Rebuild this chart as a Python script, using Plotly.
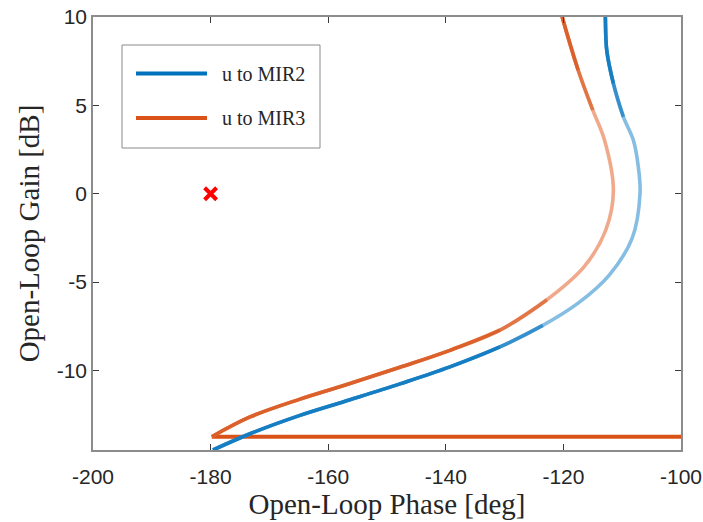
import plotly.graph_objects as go

# ---- data (phase [deg], gain [dB]) ----
mir2_phase = [-179.6, -173.3, -164.8, -156.3, -147.8, -139.3, -130.8, -123.5, -117.5, -112.2,
              -108.3, -106.97, -107.26, -108.1, -109.8, -111.5, -112.63, -112.87, -112.95]
mir2_gain = [-14.5, -13.58, -12.54, -11.66, -10.76, -9.80, -8.67, -7.45, -6.19, -4.6,
             -2.51, 0.0, 1.52, 3.03, 4.35, 6.24, 8.12, 10.0, 10.6]

mir3_phase = [-179.8, -173.3, -164.8, -156.3, -147.8, -139.3, -130.8, -122.8, -116.5, -112.8,
              -111.5, -113.0, -115.0, -117.5, -120.2, -120.5]
mir3_gain = [-13.75, -12.63, -11.62, -10.74, -9.82, -8.86, -7.72, -6.0, -4.14, -2.06,
             0.17, 3.03, 4.73, 7.0, 10.0, 10.4]

mir3_tail_phase = [-179.8, -95.0]
mir3_tail_gain = [-13.75, -13.75]

crit_phase = [-180]
crit_gain = [0]

series_names = ["u to MIR2", "u to MIR3"]
x_ticks = [-200, -180, -160, -140, -120, -100]
x_labels = ["-200", "-180", "-160", "-140", "-120", "-100"]
y_ticks = [-10, -5, 0, 5, 10]
y_labels = ["-10", "-5", "0", "5", "10"]

BLUE = "#0072BD"
BLUE_LIGHT = "#86bde3"
ORANGE = "#D95319"
ORANGE_LIGHT = "#f0a98b"

fig = go.Figure()


def add_line(xs, ys, color, width=3.6, shape="spline", opacity=1.0):
    fig.add_trace(go.Scatter(x=xs, y=ys, mode="lines", opacity=opacity,
                             line=dict(color=color, width=width, shape=shape),
                             showlegend=False, hoverinfo="skip"))


def shaded_curve(xs, ys, light, dark, bands, alpha=0.6):
    # light base curve, darker overlays where the plotted points are dense
    add_line(xs, ys, light)
    for lo, hi in bands:
        lower = [i for i, g in enumerate(ys) if g <= lo]
        upper = [i for i, g in enumerate(ys) if g >= hi]
        if lower:
            add_line([xs[i] for i in lower], [ys[i] for i in lower], dark, opacity=alpha)
        if upper:
            add_line([xs[i] for i in upper], [ys[i] for i in upper], dark, opacity=alpha)


add_line(mir3_tail_phase, mir3_tail_gain, ORANGE, width=4.2, shape="linear")
shaded_curve(mir2_phase, mir2_gain, BLUE_LIGHT, BLUE, [(-7.45, 4.35), (-8.67, 6.24)])
shaded_curve(mir3_phase, mir3_gain, ORANGE_LIGHT, ORANGE, [(-6.0, 4.73), (-7.72, 7.0)])

fig.add_trace(go.Scatter(x=crit_phase, y=crit_gain, mode="markers",
                         marker=dict(symbol="x-thin", size=12, color="red",
                                     line=dict(color="red", width=4)),
                         showlegend=False, hoverinfo="skip"))

# ---- manual legend box ----
L, R, T, B = 93, 681, 17, 450
W, H = R - L, B - T


def px(x):
    return (x - L) / W


def py(y):
    return 1 - (y - T) / H


shapes = [dict(type="rect", xref="paper", yref="paper",
               x0=px(122), x1=px(320), y0=py(148), y1=py(45),
               line=dict(color="#8a8a8a", width=1), fillcolor="white", layer="above")]
annotations = []
for name, color, yy in zip(series_names, [BLUE, ORANGE], [73.5, 118]):
    shapes.append(dict(type="line", xref="paper", yref="paper",
                       x0=px(136), x1=px(207), y0=py(yy), y1=py(yy),
                       line=dict(color=color, width=4), layer="above"))
    annotations.append(dict(text=name, xref="paper", yref="paper",
                            x=px(220), y=py(yy), xanchor="left", yanchor="middle",
                            showarrow=False,
                            font=dict(family="Liberation Serif", size=20, color="#262626")))

axis_common = dict(showgrid=False, zeroline=False, showline=True, linecolor="#8c8c8c",
                   linewidth=1.6, mirror="ticks", ticks="inside", ticklen=6,
                   tickcolor="#3a3a3a", tickwidth=1, automargin=False,
                   ticklabeloverflow="allow",
                   tickfont=dict(family="Liberation Sans", size=21, color="#262626"))

fig.update_layout(
    width=703, height=522,
    margin=dict(l=L, r=703 - R, t=T, b=522 - B, autoexpand=False),
    paper_bgcolor="white", plot_bgcolor="white",
    showlegend=False,
    shapes=shapes, annotations=annotations,
    xaxis=dict(range=[-200, -100], tickvals=x_ticks, ticktext=x_labels, ticklabelstandoff=7,
               title=dict(text="Open-Loop Phase [deg]", standoff=6,
                          font=dict(family="Liberation Serif", size=29, color="#262626")),
               **axis_common),
    yaxis=dict(range=[-14.5, 10], tickvals=y_ticks, ticktext=y_labels,
               title=dict(text="Open-Loop Gain [dB]", standoff=8,
                          font=dict(family="Liberation Serif", size=29, color="#262626")),
               **axis_common),
)

fig.write_html("out.html")
